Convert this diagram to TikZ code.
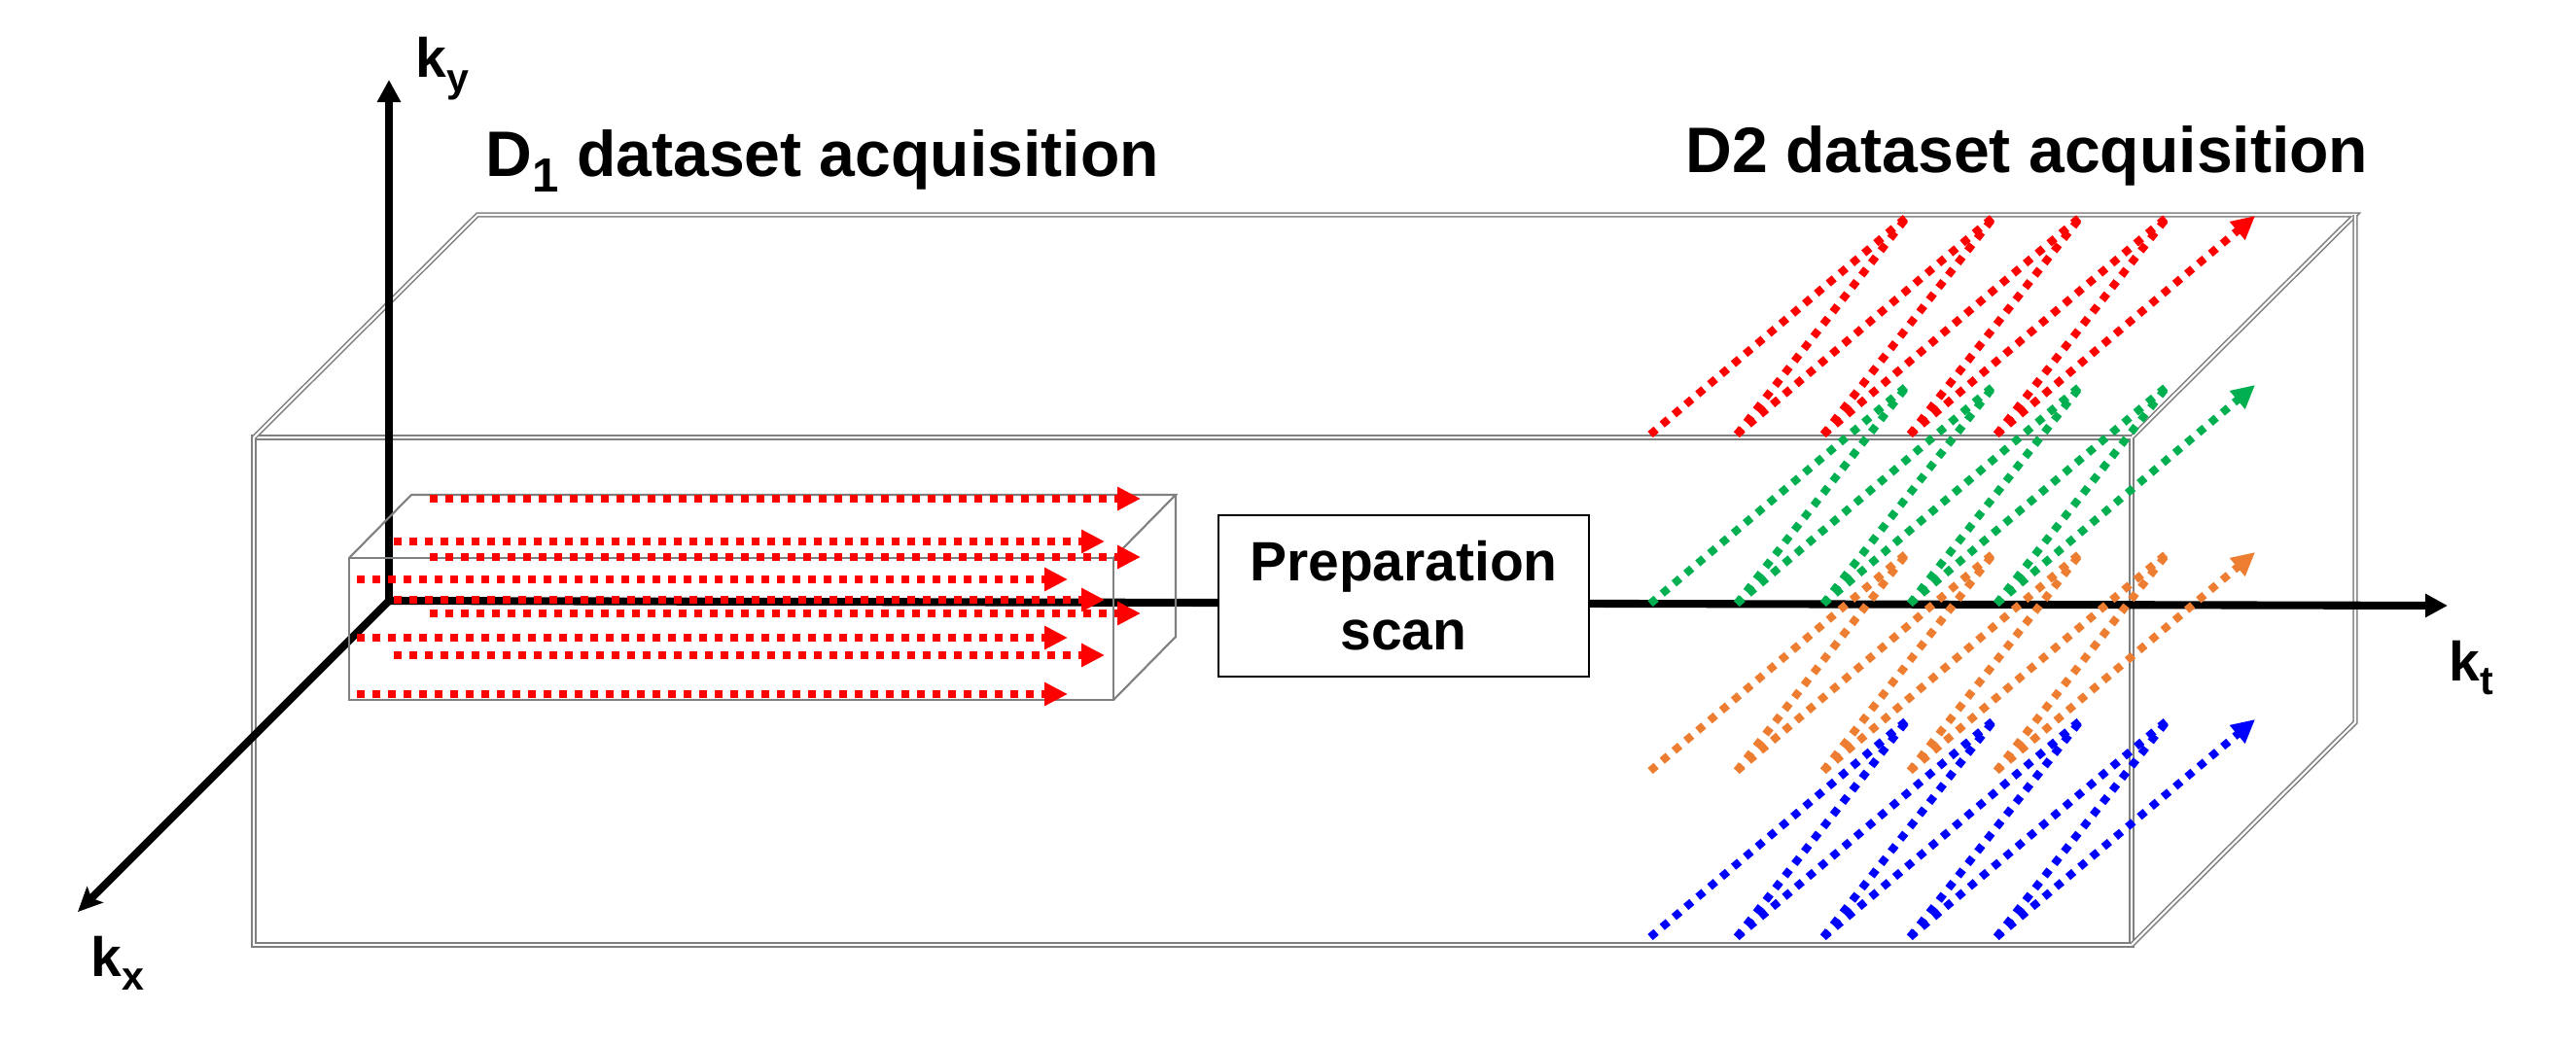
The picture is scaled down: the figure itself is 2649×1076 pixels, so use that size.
\documentclass[tikz,border=0pt]{standalone}
\usepackage{fontspec}
\setmainfont{Liberation Sans}
\usetikzlibrary{arrows.meta}
\definecolor{dred}{HTML}{FF0000}
\definecolor{dgreen}{HTML}{00B050}
\definecolor{dorange}{HTML}{ED7D31}
\definecolor{dblue}{HTML}{0000FF}
\definecolor{boxgray}{HTML}{808080}
\begin{document}
\begin{tikzpicture}[x=0.01cm,y=-0.01cm,
  bigedge/.style={draw=boxgray, line width=0.45pt, double=white, double distance=0.6pt},
  smalledge/.style={draw=boxgray, line width=0.6pt},
  axisline/.style={line width=2.3pt, -{Triangle[length=0.23cm,width=0.23cm]}},
  dots/.style={line width=0.08cm, dash pattern=on 0.08cm off 0.08cm},
  dotarrow/.style={dots, -{Triangle[length=0.24cm,width=0.23cm]}},
  title/.style={font=\fontsize{18.8}{22}\selectfont\bfseries, inner sep=0pt, anchor=base west},
  axlabel/.style={font=\fontsize{16.2}{19}\selectfont\bfseries, inner sep=0pt, anchor=base west},
  prepbox/.style={draw, line width=0.75pt, fill=white, minimum width=3.81cm, minimum height=1.66cm,
    align=center, inner sep=0pt, font=\fontsize{16.2}{20.2}\selectfont\bfseries}
]
\useasboundingbox (0,0) rectangle (2649,1076);

% big cuboid
\coordinate (F1) at (261,450);
\coordinate (F2) at (2192,450);
\coordinate (F3) at (2192,972);
\coordinate (F4) at (261,972);
\coordinate (K1) at (491,221);
\coordinate (K2) at (2422,221);
\coordinate (K3) at (2422,743);
\draw[bigedge] (F1) -- (F2) -- (F3) -- (F4) -- cycle;
\draw[bigedge] (F1) -- (K1) -- (K2) -- (F2);
\draw[bigedge] (K2) -- (K3) -- (F3);

% axes
\coordinate (O) at (400,618);
\coordinate (ytip) at (400,82);
\coordinate (xtip) at (80,938);
\coordinate (ttip) at (2517,623);
\draw[axisline] (O) -- (ytip);
\draw[line width=2.3pt, -{Stealth[length=0.25cm,width=0.23cm,inset=0.05cm]}] (O) -- (xtip);
\draw[axisline] (O) -- (ttip);

% small cuboid
\coordinate (s1) at (359,574);
\coordinate (s2) at (1145,574);
\coordinate (s3) at (1145,720);
\coordinate (s4) at (359,720);
\coordinate (b1) at (423,509);
\coordinate (b2) at (1209,509);
\coordinate (b3) at (1209,655);
\draw[smalledge] (s1) -- (s2) -- (s3) -- (s4) -- cycle;
\draw[smalledge] (s1) -- (b1) -- (b2) -- (s2);
\draw[smalledge] (b2) -- (b3) -- (s3);

% D1 readout lines
\foreach \xs/\y [count=\k] in {442/513, 405/557, 442/573, 367/596, 405/617, 442/631, 367/656, 405/674, 367/714} {
  \coordinate (A\k) at (\xs,\y);
  \coordinate (B\k) at ({\xs+731},\y);
  \draw[dotarrow, color=dred] (A\k) -- (B\k);
}

% preparation scan
\node[prepbox] (prep) at (1443.5,613) {Preparation\\scan};

% D2 lines
\foreach \c/\s/\t [count=\j] in {dred/447/222, dgreen/621/396, dorange/793/568, dblue/964/740} {
  \foreach \i in {1,...,5} {
    \coordinate (S\j-\i) at ({1697+89*(\i-1)}, \s);
    \coordinate (T\j-\i) at ({1962+89.25*(\i-1)}, \t);
  }
  \foreach \i in {1,...,4} {
    \pgfmathtruncatemacro\n{\i+1}
    \draw[dots, color=\c] (S\j-\i) -- (T\j-\i);
    \draw[dots, color=\c] (S\j-\n) -- (T\j-\i);
  }
  \draw[dotarrow, color=\c] (S\j-5) -- (T\j-5);
}

% labels
\node[title] (d1) at (499,182) {D\raisebox{-4.3pt}{\fontsize{14}{16}\selectfont 1} dataset acquisition};
\node[title] (d2) at (1733,177) {D2 dataset acquisition};
\node[axlabel] (kylab) at (427,80) {k\raisebox{-4pt}{\fontsize{11.7}{14}\selectfont y}};
\node[axlabel] (kxlab) at (93,1004) {k\raisebox{-4pt}{\fontsize{11.7}{14}\selectfont x}};
\node[axlabel] (ktlab) at (2518,700) {k\raisebox{-4pt}{\fontsize{11.7}{14}\selectfont t}};
\end{tikzpicture}
\end{document}
